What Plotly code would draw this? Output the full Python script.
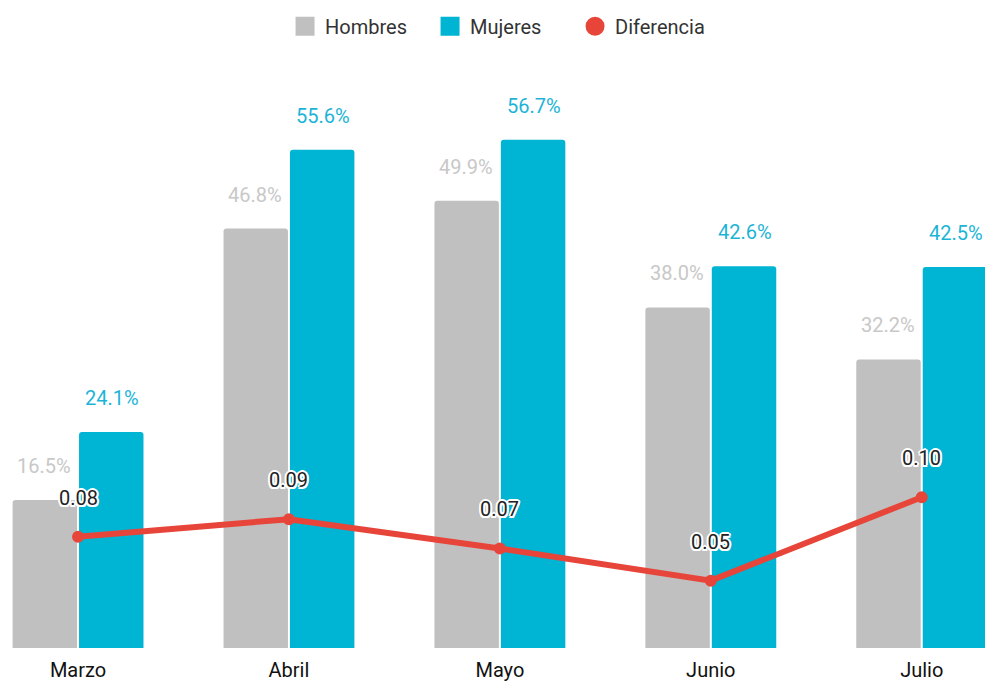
import plotly.graph_objects as go

months = ["Marzo", "Abril", "Mayo", "Junio", "Julio"]
hombres = [16.5, 46.8, 49.9, 38.0, 32.2]
mujeres = [24.1, 55.6, 56.7, 42.6, 42.5]
diferencia = [0.076, 0.088, 0.068, 0.046, 0.103]

GRAY = "#c0c0c0"
CYAN = "#00b4d4"
RED = "#e8453a"
FONT = "Roboto, Arial, sans-serif"

fig = go.Figure()
fig.add_trace(go.Bar(x=months, y=hombres, name="Hombres", marker=dict(color=GRAY, line=dict(width=0)),
                     showlegend=False, hoverinfo="skip"))
fig.add_trace(go.Bar(x=months, y=mujeres, name="Mujeres", marker=dict(color=CYAN, line=dict(width=0)),
                     showlegend=False, hoverinfo="skip"))
fig.add_trace(go.Scatter(x=months, y=diferencia, name="Diferencia", yaxis="y2", mode="lines+markers",
                         line=dict(color=RED, width=6), marker=dict(color=RED, size=12),
                         showlegend=False, hoverinfo="skip"))

# legend entries
for nm, col, sym in [("Hombres", GRAY, "square"), ("Mujeres", CYAN, "square"), ("Diferencia", RED, "circle")]:
    fig.add_trace(go.Scatter(x=[None], y=[None], mode="markers", name=nm,
                             marker=dict(color=col, size=20, symbol=sym, line=dict(color=col, width=3))))

ann = []
for m, h, w in zip(months, hombres, mujeres):
    ann.append(dict(x=m, y=h, xref="x", yref="y", text=f"{h:.1f}%", showarrow=False,
                    xshift=-34, yshift=34, font=dict(family=FONT, size=20, color="#c8c8c8")))
    ann.append(dict(x=m, y=w, xref="x", yref="y", text=f"{w:.1f}%", showarrow=False,
                    xshift=34, yshift=34, font=dict(family=FONT, size=20, color="#1cb4d6")))
for m, d in zip(months, diferencia):
    ann.append(dict(x=m, y=d, xref="x", yref="y2", text=f"{d:.2f}", showarrow=False,
                    yshift=39, font=dict(family=FONT, size=20, color="#222222",
                                         shadow="-1.5px -1.5px 0 #fff, 1.5px -1.5px 0 #fff, -1.5px 1.5px 0 #fff, 1.5px 1.5px 0 #fff, 0 2px 0 #fff, 0 -2px 0 #fff, 2px 0 0 #fff, -2px 0 0 #fff")))

fig.update_layout(
    width=985, height=681,
    margin=dict(l=0, r=0, t=60, b=33),
    paper_bgcolor="white", plot_bgcolor="white",
    barmode="group", bargap=0.37, bargroupgap=0.03, barcornerradius=3,
    font=dict(family=FONT, size=20, color="#222222"),
    xaxis=dict(type="category", range=[-0.37, 4.30], showgrid=False, showline=False, zeroline=False,
               ticks="", tickfont=dict(size=20, color="#111111"), ticklabelstandoff=8, fixedrange=True),
    yaxis=dict(range=[0, 65.6], visible=False, fixedrange=True),
    yaxis2=dict(range=[0, 0.4016], overlaying="y", side="right", visible=False, fixedrange=True),
    legend=dict(orientation="h", x=0.5102, xanchor="center", y=0.99, yanchor="top",
                yref="container", font=dict(size=20, color="#333333"), itemsizing="trace",
                entrywidth=100, entrywidthmode="pixels"),
    annotations=ann,
    showlegend=True,
)

fig.write_html("out.html", post_script="document.body.style.margin='0';",
               config={"displayModeBar": False})
